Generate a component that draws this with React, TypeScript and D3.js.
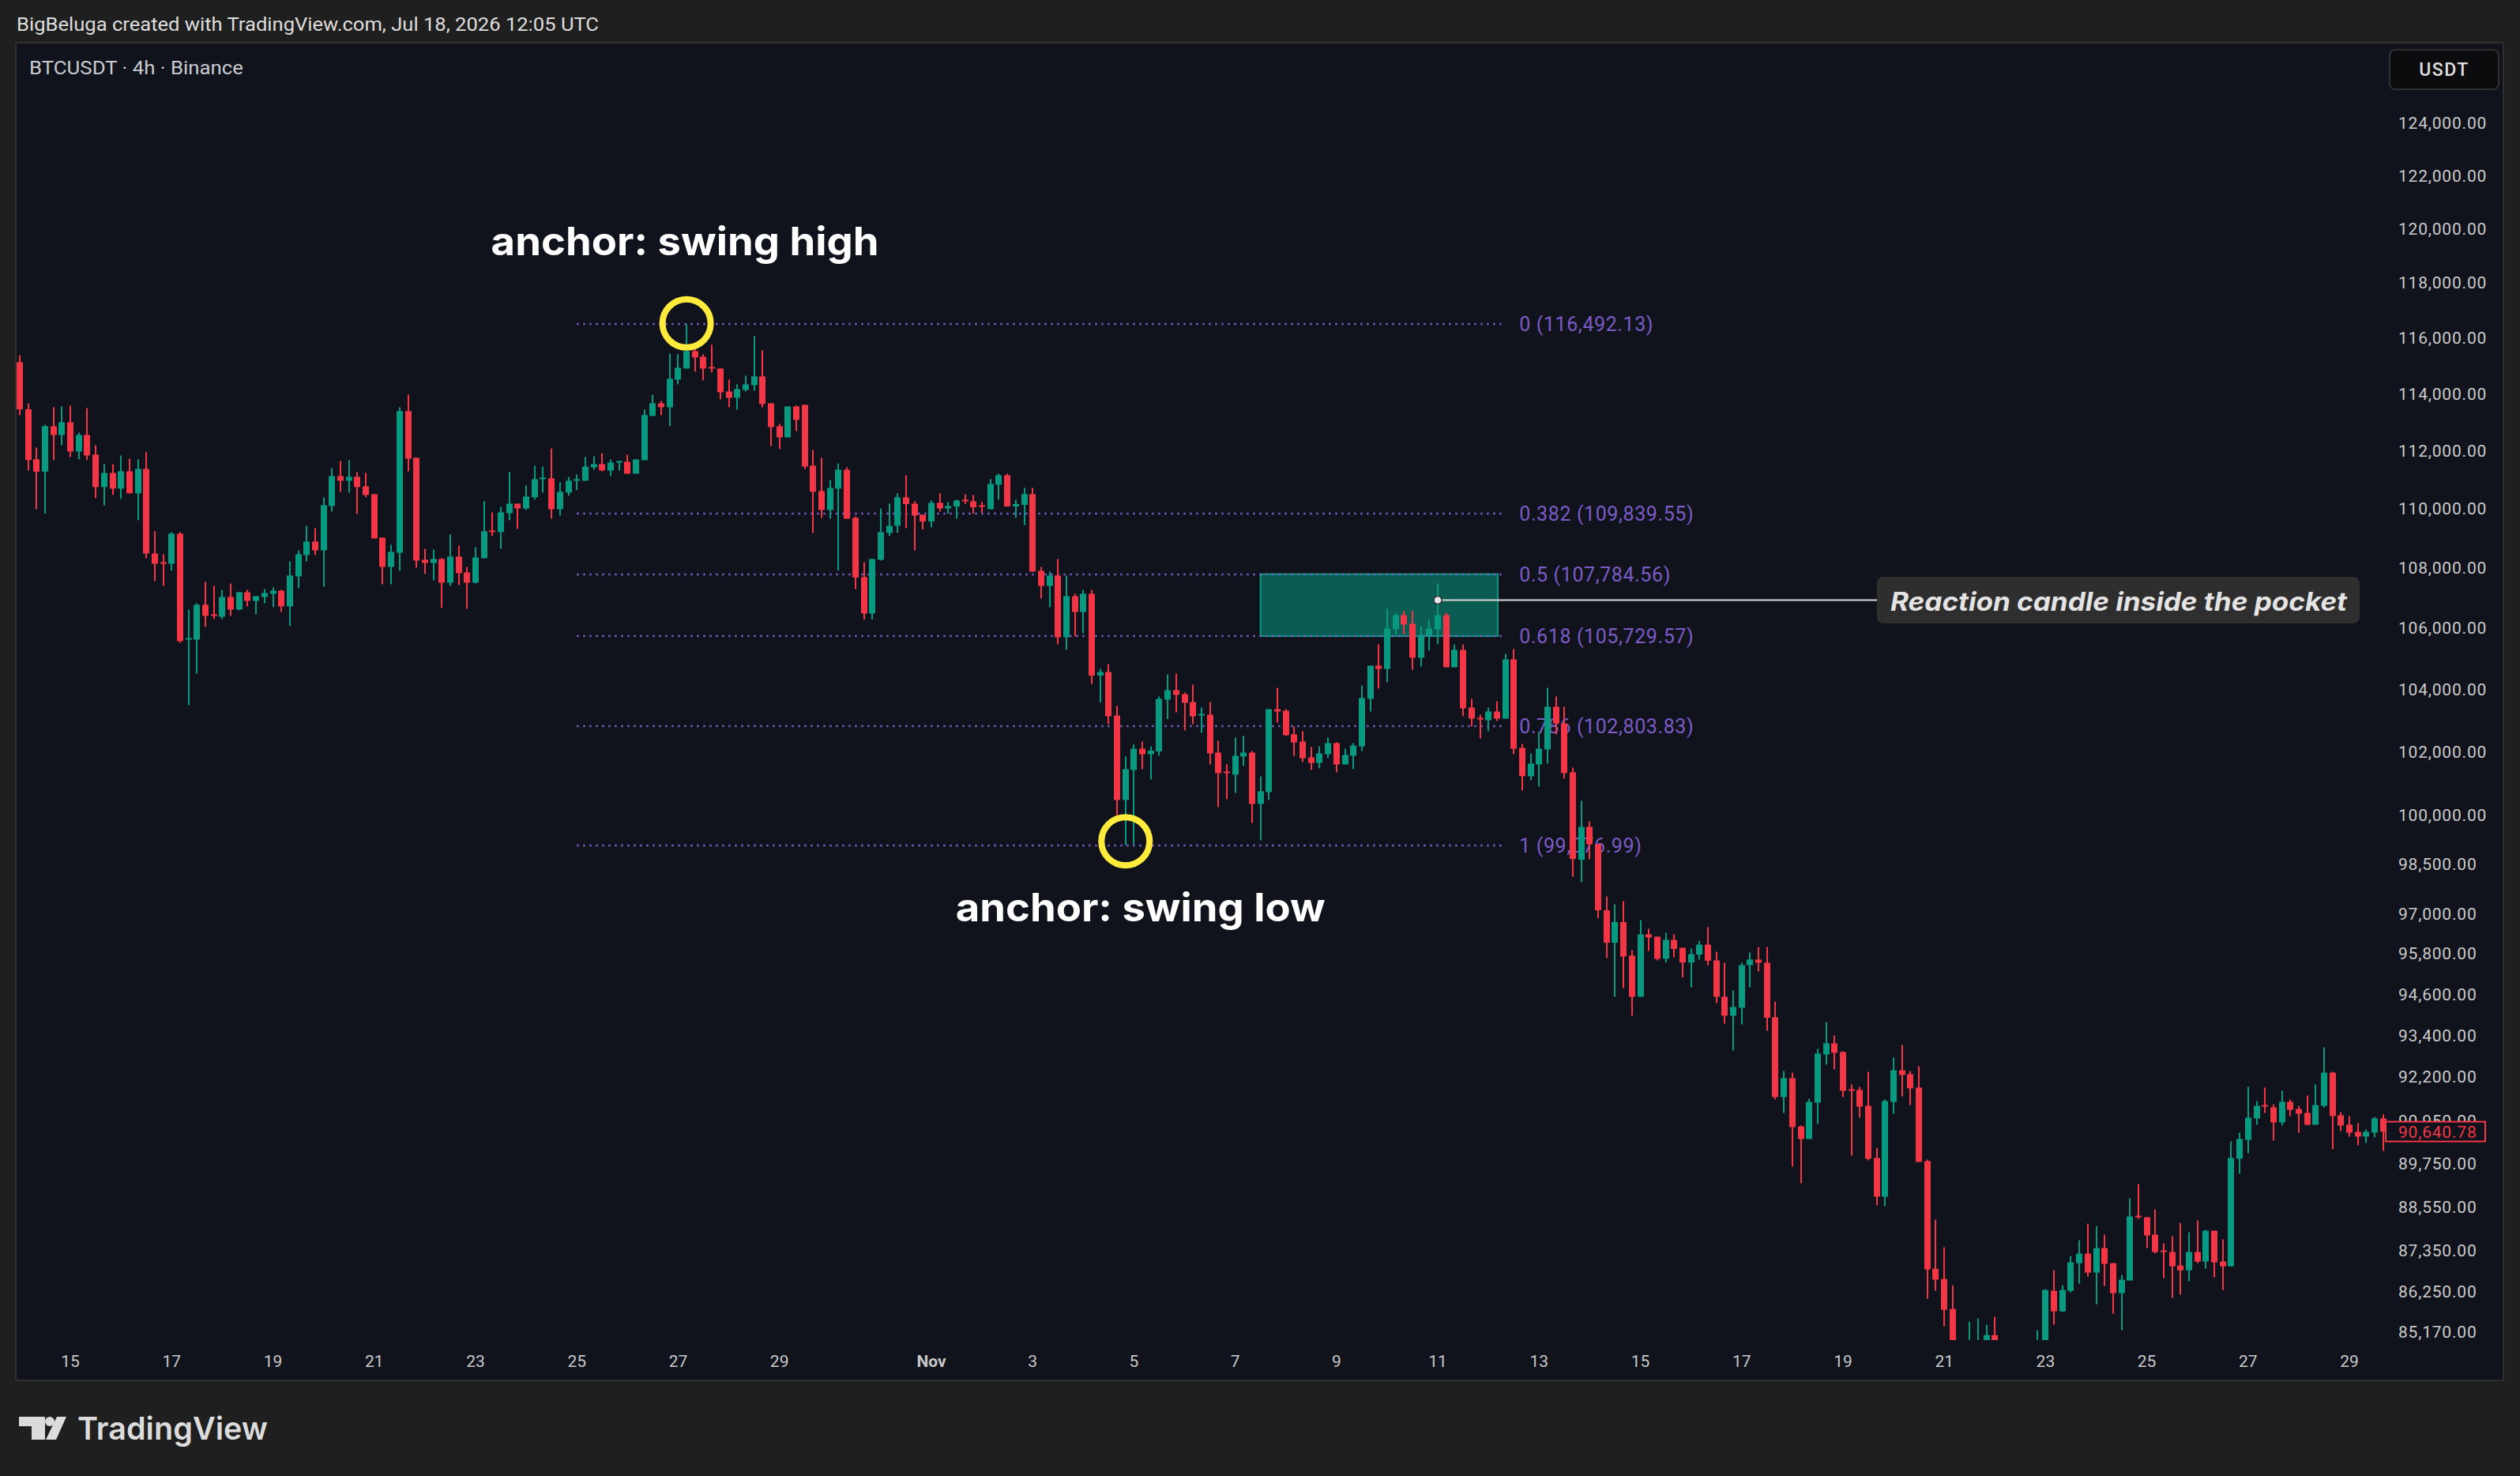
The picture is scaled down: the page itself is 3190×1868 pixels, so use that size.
import React, { useEffect } from 'react';
import * as d3 from 'd3';

const W = 3190;
const H = 1868;

// first candle: Oct 14 2025 00:00 UTC, 4h bars
const START = Date.UTC(2025, 9, 14, 0, 0);
const BAR_MS = 4 * 3600 * 1000;

const opens = [
  115123, 113448, 111700, 111272, 112855, 112549, 112995, 111972, 112549, 111863,
  110742, 111230, 110688, 111285, 110525, 111368, 108478, 108187, 108134, 109149,
  105622, 105615, 106762, 106448, 106370, 107024, 106606, 107181, 106893, 107024,
  107129, 107234, 106710, 107711, 108426, 108880, 108585, 110091, 111122, 110959,
  111095, 110769, 110498, 109015, 108028, 108505, 113384, 111753, 108267, 108161,
  108293, 107499, 108373, 107843, 107499, 108320, 109256, 109202, 109846, 110172,
  110009, 110389, 111014, 111041, 109982, 110552, 110959, 110959, 111423, 111533,
  111313, 111588, 111615, 111203, 111670, 113217, 113662, 113523, 114503, 114897,
  115520, 115321, 114953, 114897, 114080, 113857, 114137, 114306, 114616, 113662,
  112855, 112467, 113551, 113607, 111478, 110606, 109955, 110688, 111340, 109685,
  107685, 106474, 108267, 109176, 109417, 110389, 110172, 109793, 109565, 110200,
  110009, 110075, 110308, 110254, 110118, 109982, 110823, 111149, 110075, 110132,
  110498, 107896, 107393, 107738, 105692, 107050, 106527, 107129, 104441, 104556,
  103152, 100479, 101421, 102094, 101919, 102007, 103662, 103968, 103840, 103585,
  103152, 103178, 101969, 101372, 101273, 101844, 101969, 100356, 100725, 103355,
  103304, 102548, 102321, 101819, 101645, 101919, 102271, 101596, 101869, 102170,
  103687, 104761, 104658, 105951, 106422, 106134, 105020, 105744, 105951, 106422,
  104710, 105279, 103407, 103077, 103001, 103279, 103052, 104968, 102119, 101223,
  101596, 102069, 103432, 102901, 101347, 98631, 99643, 99107, 97094, 96120,
  96738, 95734, 94519, 96371, 96300, 95640, 96205, 95968, 95532, 95766,
  96063, 95593, 94519, 93964, 94195, 95453, 95617, 95523, 93918, 91616,
  92158, 90788, 90431, 91458, 92840, 93160, 92909, 91842, 91820, 91368,
  89900, 88824, 91481, 92384, 92271, 91888, 89812, 86860, 86583, 85778,
  84500, 83000, 84200, 84700, 85085, 84200, 82500, 81000, 83000, 84200,
  84700, 86265, 85715, 86265, 87008, 87267, 86753, 87417, 87008, 86201,
  86541, 88302, 88258, 87783, 87353, 87310, 86945, 86817, 87310, 87052,
  87890, 87052, 86923, 89878, 90409, 91011, 91390, 91324, 90900, 91481,
  91279, 91167, 90833, 91368, 92316, 91100, 90833, 90632, 90499, 90610,
  91011,
];

const highs = [
  115377, 113662, 112110, 112911, 113523, 113551, 113579, 112633, 113495, 112192,
  111533, 111533, 111835, 111725, 111700, 111945, 109229, 108452, 109202, 109202,
  106606, 106815, 107526, 107393, 107260, 107473, 107181, 107260, 107050, 107286,
  107340, 107260, 108214, 108585, 109417, 109336, 110389, 111395, 111643, 111670,
  111258, 111230, 110498, 109015, 108773, 113523, 113968, 111753, 108639, 108612,
  108320, 109122, 108746, 108028, 108692, 110254, 109873, 110064, 111258, 110172,
  110796, 111478, 111450, 112082, 110905, 111095, 111176, 111780, 111808, 111918,
  111698, 111643, 111863, 111698, 113440, 113968, 113746, 115434, 115405, 116492,
  115605, 115405, 115748, 114897, 114503, 114334, 114644, 116060, 115548, 113662,
  112939, 113551, 113579, 113607, 112027, 111753, 110986, 111560, 111423, 109739,
  108187, 108293, 110009, 110172, 110525, 111149, 110254, 109793, 110281, 110525,
  110227, 110308, 110498, 110470, 110227, 111014, 111203, 111203, 110308, 110715,
  110715, 108028, 107870, 108293, 107738, 107129, 107260, 107260, 104658, 104812,
  103458, 101845, 102230, 102321, 102170, 103764, 104479, 104504, 103891, 104147,
  103407, 103585, 102346, 101596, 102447, 102498, 102019, 101223, 103355, 104044,
  103355, 102800, 102649, 102145, 102170, 102447, 102296, 102094, 102271, 104121,
  104761, 105459, 106632, 106501, 106553, 106553, 106056, 106266, 107473, 106501,
  105459, 105459, 103687, 103178, 103407, 103611, 105150, 105304, 102246, 101944,
  102623, 104044, 103764, 103432, 101496, 100455, 99815, 99107, 97513, 97273,
  97369, 95897, 96797, 96537, 96300, 96419, 96371, 95968, 95945, 96172,
  96585, 95851, 95523, 94704, 95523, 95827, 95992, 95992, 94380, 92362,
  92316, 90811, 91571, 93000, 93779, 93388, 92932, 91978, 91910, 92339,
  90187, 91549, 92748, 93114, 92362, 92497, 89856, 88193, 87438, 86413,
  84900, 85442, 85526, 85359, 85568, 84600, 83200, 83500, 84500, 85211,
  86307, 86817, 86413, 87202, 87632, 88084, 88019, 87783, 87008, 86690,
  88781, 89173, 88258, 88475, 87546, 87740, 88105, 87847, 88170, 87912,
  87890, 87654, 90365, 90610, 91910, 91503, 91888, 91413, 91797, 91549,
  91368, 91662, 91978, 93045, 92339, 91190, 91078, 90877, 90699, 91056,
  91123,
];

const lows = [
  113245, 111313, 109982, 109827, 111678, 112192, 111780, 111700, 111670, 110362,
  110118, 110470, 110335, 110525, 109605, 108320, 107552, 107393, 107896, 105511,
  103483, 104504, 106030, 106292, 106292, 106396, 106580, 106710, 106448, 106815,
  106684, 106527, 106056, 107313, 108214, 108426, 107366, 109900, 110579, 110552,
  109819, 110389, 108988, 107446, 107446, 107896, 111285, 108002, 107790, 107579,
  106658, 107393, 107420, 106632, 107473, 108320, 109068, 108639, 109605, 109310,
  109955, 110308, 110552, 109659, 109766, 110443, 110633, 110959, 111340, 111285,
  111122, 111313, 111203, 111203, 111670, 113217, 113245, 112855, 114334, 114897,
  114784, 114475, 114756, 113801, 113523, 113440, 114080, 114109, 113523, 112164,
  112054, 112467, 112688, 111368, 109176, 109685, 109659, 107909, 109659, 107286,
  106279, 106279, 108240, 109068, 109176, 109336, 108585, 109296, 109363, 109900,
  109832, 109659, 110159, 109832, 109860, 109982, 110308, 110075, 109685, 109444,
  107870, 106971, 106684, 105459, 105279, 105718, 105821, 104160, 103572, 102876,
  99974, 99077, 99100, 101446, 101122, 101869, 103039, 103254, 102674, 102876,
  102598, 101596, 100258, 100503, 100701, 101546, 99766, 99229, 100479, 102926,
  102497, 101869, 101670, 101422, 101471, 101795, 101347, 101596, 101446, 102019,
  103279, 104019, 104223, 105796, 105796, 104633, 104735, 105253, 105459, 104710,
  104710, 103128, 102800, 102422, 102649, 102976, 103052, 101919, 100774, 101100,
  100898, 101621, 102548, 101149, 98114, 97946, 98646, 96857, 95663, 94519,
  94774, 93964, 94519, 95874, 95593, 95532, 95687, 95090, 94797, 95617,
  95446, 94334, 93733, 92954, 93710, 94797, 95266, 93526, 91549, 91167,
  89658, 89195, 90431, 90855, 92543, 92407, 91616, 89967, 91034, 89834,
  88585, 88563, 91145, 91639, 91390, 89790, 86052, 86265, 85317, 83500,
  82000, 82500, 83800, 84000, 83500, 81500, 80600, 80800, 82800, 83900,
  84500, 85359, 85700, 86222, 86456, 86647, 85904, 86392, 85652, 85212,
  86541, 88215, 87417, 87267, 86605, 86074, 86159, 86520, 87008, 86860,
  86626, 86286, 86923, 89459, 90033, 90833, 91167, 90387, 90811, 91078,
  90610, 90811, 90833, 91324, 90143, 90654, 90499, 90253, 90319, 90477,
  90099,
];

const closes = [
  113448, 111678, 111272, 112855, 112549, 112995, 111972, 112549, 111835, 110742,
  111230, 110688, 111285, 110525, 111368, 108478, 108134, 108134, 109149, 105563,
  105666, 106762, 106396, 106396, 107024, 106606, 107181, 106893, 107050, 107155,
  107234, 106710, 107738, 108452, 108880, 108585, 110118, 111122, 110959, 111095,
  110742, 110470, 108988, 108028, 108532, 113384, 111725, 108240, 108161, 108293,
  107499, 108373, 107817, 107499, 108346, 109229, 109202, 109873, 110172, 110009,
  110416, 111014, 111068, 109982, 110579, 110959, 111014, 111450, 111533, 111313,
  111588, 111643, 111203, 111698, 113245, 113662, 113523, 114531, 114925, 115520,
  115292, 114897, 114897, 114052, 113857, 114165, 114334, 114616, 113635, 112827,
  112467, 113551, 113078, 111450, 110579, 109955, 110715, 111340, 109659, 107671,
  106474, 108293, 109202, 109417, 110389, 110159, 109766, 109565, 110200, 110009,
  110091, 110281, 110254, 110048, 110064, 110851, 111149, 110075, 110159, 110498,
  107870, 107393, 107738, 105692, 107050, 106527, 107129, 104441, 104556, 103128,
  100479, 101446, 102094, 101919, 102032, 103687, 103968, 103815, 103560, 103128,
  103203, 101944, 101322, 101322, 101869, 101969, 100356, 100750, 103355, 103279,
  102522, 102296, 101795, 101645, 101944, 102271, 101596, 101894, 102195, 103713,
  104761, 104658, 105977, 106422, 106108, 105020, 105770, 105977, 106422, 104710,
  105279, 103381, 103052, 103027, 103279, 103052, 104968, 102094, 101223, 101621,
  102094, 103432, 102901, 101322, 98655, 99643, 99107, 97094, 96120, 96738,
  95710, 94519, 96371, 96276, 95640, 96205, 95935, 95532, 95780, 96063,
  95584, 94519, 93964, 94218, 95453, 95617, 95523, 93904, 91616, 92158,
  90766, 90431, 91481, 92863, 93160, 92886, 91797, 91797, 91346, 89878,
  88824, 91503, 92384, 92249, 91865, 89790, 86838, 86562, 85757, 84500,
  83000, 84200, 84700, 85085, 84200, 82500, 81000, 83000, 84200, 84700,
  86286, 85715, 86286, 87029, 87267, 86753, 87417, 86987, 86201, 86562,
  88280, 88258, 87761, 87310, 87310, 86923, 86817, 87310, 87052, 87890,
  87029, 86923, 89900, 90431, 91034, 91368, 91346, 90900, 91481, 91257,
  91145, 90833, 91390, 92316, 91078, 90811, 90610, 90499, 90632, 91011,
  90640.78,
];

const priceTicks = [
  124000, 122000, 120000, 118000, 116000, 114000, 112000, 110000, 108000, 106000,
  104000, 102000, 100000, 98500, 97000, 95800, 94600, 93400, 92200, 90950,
  89750, 88550, 87350, 86250, 85170,
];

const dateTickDays = [
  [9, 15], [9, 17], [9, 19], [9, 21], [9, 23], [9, 25], [9, 27], [9, 29],
  [10, 1], [10, 3], [10, 5], [10, 7], [10, 9], [10, 11], [10, 13], [10, 15],
  [10, 17], [10, 19], [10, 21], [10, 23], [10, 25], [10, 27], [10, 29],
];
const dateTickLabels = [
  '15', '17', '19', '21', '23', '25', '27', '29', 'Nov', '3', '5', '7', '9', '11',
  '13', '15', '17', '19', '21', '23', '25', '27', '29',
];

const fibLevels = ['0', '0.382', '0.5', '0.618', '0.786', '1'];
const fibPrices = [116492.13, 109839.55, 107784.56, 105729.57, 102803.83, 99076.99];
const fibFromBar = 66;
const fibToBar = 175.6;

const pocketFromBar = 147;
const pocketToBar = 175.1;
const pocketTop = 107784.56;
const pocketBottom = 105729.57;

const swingHighBar = 79;
const swingHighPrice = 116492.13;
const swingLowBar = 131;
const swingLowPrice = 99076.99;

const reactionBar = 168;
const reactionPrice = 106920;

const GREEN = '#089981';
const RED = '#f23645';
const PANE = '#10131c';
const OUTER = '#1f1f1f';
const PURPLE = '#7b5bc6';

const fmt2 = d3.format(',.2f');
const fmtNum = (v: number) => fmt2(v);

export default function App() {
  useEffect(() => {
    document.body.style.margin = '0';
    document.body.style.background = OUTER;
  }, []);

  const barW = 10.685;
  const x = d3.scaleLinear().domain([0, 280]).range([25, 25 + 280 * barW]);
  const y = d3.scaleLog().domain([85170, 124000]).range([1685.6, 155.9]);
  const barOfTime = (t: number) => (t - START) / BAR_MS;

  const plotLeft = 20;
  const plotRight = 3022;
  const plotTop = 55;
  const plotBottom = 1696;

  const candles = closes.map((c, i) => ({ o: opens[i], h: highs[i], l: lows[i], c, i }));
  const last = closes[closes.length - 1];
  const lastY = y(last);

  const axisFont = "Roboto, 'Noto Sans', 'DejaVu Sans', sans-serif";
  const annFont = "Inter, 'Open Sans', Roboto, sans-serif";

  return (
    <svg width={W} height={H} style={{ position: 'absolute', left: 0, top: 0, display: 'block' }}>
      <defs>
        <clipPath id="plotClip">
          <rect x={plotLeft} y={plotTop} width={plotRight - plotLeft} height={plotBottom - plotTop} />
        </clipPath>
      </defs>
      <rect x={0} y={0} width={W} height={H} fill={OUTER} />
      <text x={21} y={39} fill="#dedede" fontFamily={axisFont} fontSize={23.5} textLength={737} lengthAdjust="spacingAndGlyphs">
        BigBeluga created with TradingView.com, Jul 18, 2026 12:05 UTC
      </text>

      <rect x={20} y={54} width={3149} height={1693} fill={PANE} stroke="#2f2f2f" strokeWidth={2} />

      <text x={37} y={94} fill="#c9cbd1" fontFamily={axisFont} fontSize={23.5} textLength={271} lengthAdjust="spacingAndGlyphs">
        BTCUSDT · 4h · Binance
      </text>

      {/* pocket box */}
      <rect
        x={x(pocketFromBar)}
        y={y(pocketTop)}
        width={x(pocketToBar) - x(pocketFromBar)}
        height={y(pocketBottom) - y(pocketTop)}
        fill="rgba(8,153,129,0.55)"
        stroke={GREEN}
        strokeWidth={2}
      />

      {/* fib lines + labels */}
      {fibPrices.map((p, k) => (
        <g key={'fib' + k}>
          <line
            x1={x(fibFromBar)}
            x2={x(fibToBar)}
            y1={Math.round(y(p))}
            y2={Math.round(y(p))}
            stroke={PURPLE}
            strokeWidth={2.5}
            strokeDasharray="2.5,5.5"
          />
          <text
            x={x(fibToBar) + 22}
            y={y(p)}
            dy="0.36em"
            fill={PURPLE}
            fontFamily={axisFont}
            fontSize={25}
            letterSpacing={0.6}
          >
            {fibLevels[k]} ({fmtNum(p)})
          </text>
        </g>
      ))}

      {/* candles */}
      <g clipPath="url(#plotClip)">
        {candles.map((d) => {
          const cx = x(d.i);
          const up = d.c >= d.o;
          const col = up ? GREEN : RED;
          const yTop = y(Math.max(d.o, d.c));
          const yBot = y(Math.min(d.o, d.c));
          const bh = Math.max(2, yBot - yTop);
          return (
            <g key={'c' + d.i}>
              <rect x={Math.round(cx) - 1} y={y(d.h)} width={2} height={Math.max(1, y(d.l) - y(d.h))} fill={col} />
              <rect x={Math.round(cx) - 4} y={yTop} width={8} height={bh} fill={col} />
            </g>
          );
        })}
      </g>

      {/* x axis */}
      {dateTickDays.map((md, k) => {
        const t = Date.UTC(2025, md[0], md[1], 0, 0);
        const lbl = dateTickLabels[k];
        return (
          <text
            key={'xt' + k}
            x={x(barOfTime(t))}
            y={1730}
            textAnchor="middle"
            fill="#c8c8c8"
            fontFamily={axisFont}
            fontSize={21}
            fontWeight={lbl === 'Nov' ? 700 : 400}
          >
            {lbl}
          </text>
        );
      })}

      {/* y axis */}
      {priceTicks.map((p, k) => (
        <text
          key={'yt' + k}
          x={3036}
          y={y(p)}
          dy="0.36em"
          fill="#cbcbcb"
          fontFamily={axisFont}
          fontSize={21}
          letterSpacing={0.8}
        >
          {fmtNum(p)}
        </text>
      ))}

      {/* current price label */}
      <rect x={3020} y={lastY - 12.5} width={126} height={25} fill={PANE} stroke={RED} strokeWidth={2} />
      <text x={3036} y={lastY} dy="0.36em" fill={RED} fontFamily={axisFont} fontSize={21} letterSpacing={0.8}>
        {fmtNum(last)}
      </text>

      {/* USDT box */}
      <rect x={3025} y={63} width={138} height={50} rx={7} fill="#0c0c0e" stroke="#3d3d3d" strokeWidth={1.5} />
      <text x={3094} y={88} dy="0.36em" textAnchor="middle" fill="#dedede" fontFamily={axisFont} fontSize={23} fontWeight={500} letterSpacing={1.5}>
        USDT
      </text>

      {/* swing anchors */}
      <circle cx={x(swingHighBar)} cy={y(swingHighPrice) - 1} r={30.5} fill="none" stroke="#ffeb3b" strokeWidth={8} />
      <circle cx={x(swingLowBar)} cy={y(swingLowPrice) - 5} r={30.5} fill="none" stroke="#ffeb3b" strokeWidth={8} />
      <text
        x={x(swingHighBar) - 2}
        y={y(swingHighPrice) - 87}
        textAnchor="middle"
        fill="#ffffff"
        fontFamily={annFont}
        fontSize={50}
        fontWeight={700}
        textLength={491}
        lengthAdjust="spacingAndGlyphs"
      >
        anchor: swing high
      </text>
      <text
        x={x(swingLowBar) + 19}
        y={y(swingLowPrice) + 96}
        textAnchor="middle"
        fill="#ffffff"
        fontFamily={annFont}
        fontSize={50}
        fontWeight={700}
        textLength={468}
        lengthAdjust="spacingAndGlyphs"
      >
        anchor: swing low
      </text>

      {/* reaction annotation */}
      <line x1={x(reactionBar)} x2={2376} y1={y(reactionPrice)} y2={y(reactionPrice)} stroke="#d9d9d9" strokeWidth={2} />
      <circle cx={x(reactionBar)} cy={y(reactionPrice)} r={5} fill="#e8e8e8" stroke="#333" strokeWidth={1.5} />
      <rect x={2376} y={730} width={611} height={59} rx={8} fill="#2e2e2e" />
      <text
        x={2393}
        y={773}
        fill="#e4e4e4"
        fontFamily={annFont}
        fontSize={32}
        fontWeight={700}
        fontStyle="italic"
        textLength={578}
        lengthAdjust="spacingAndGlyphs"
      >
        Reaction candle inside the pocket
      </text>

      {/* TradingView logo */}
      <g fill="#dcdcdc">
        <path d="M24,1793 H57 V1822 H40 V1805 H24 Z" />
        <circle cx={63} cy={1799} r={6} />
        <path d="M72,1793 H84 L71,1822 H58 Z" />
        <text x={98} y={1822} fontFamily={annFont} fontSize={40} fontWeight={600} textLength={241} lengthAdjust="spacingAndGlyphs">
          TradingView
        </text>
      </g>
    </svg>
  );
}
